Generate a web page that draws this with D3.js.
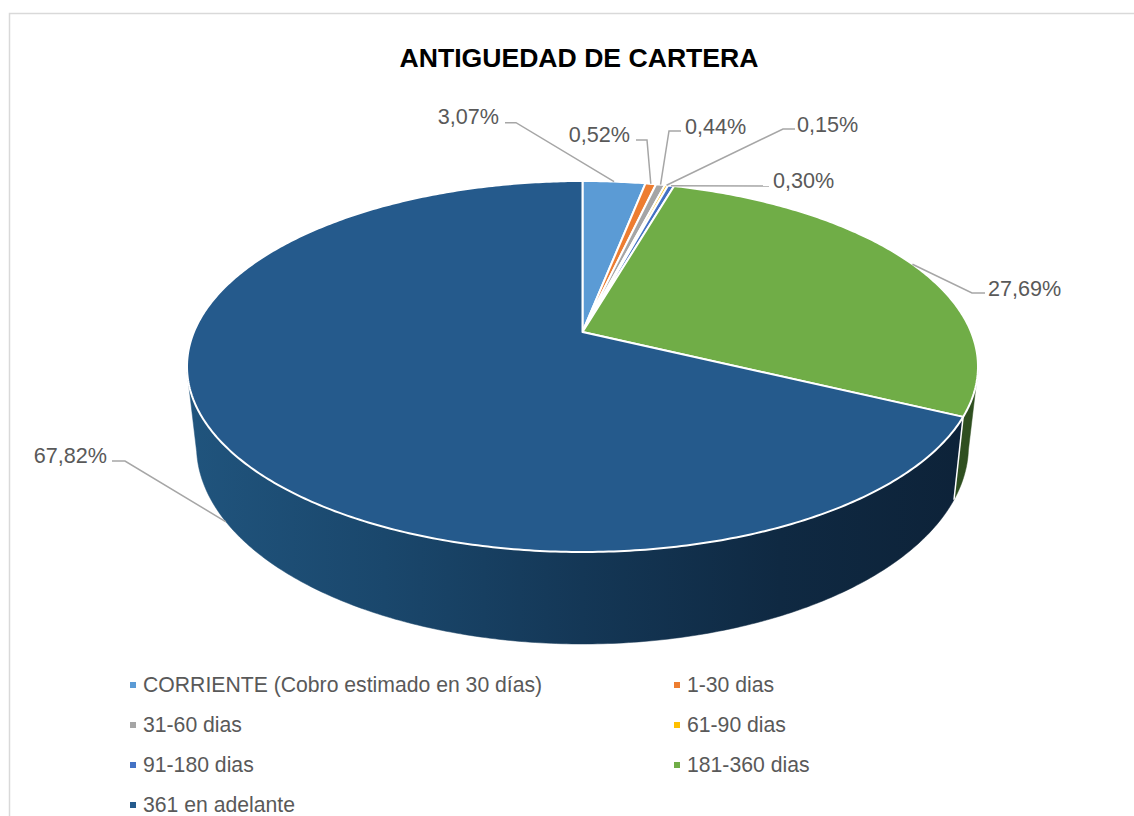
<!DOCTYPE html>
<html><head><meta charset="utf-8">
<script src="https://cdn.jsdelivr.net/npm/d3@7/dist/d3.min.js"></script>
<style>html,body{margin:0;padding:0;background:#fff;overflow:hidden}svg{display:block;font-family:"Liberation Sans",Arial,sans-serif}</style>
</head><body><svg id="c" width="1134" height="816"></svg>
<script>
const categories=["CORRIENTE (Cobro estimado en 30 días)","1-30 dias","31-60 dias","61-90 dias","91-180 dias","181-360 dias","361 en adelante"];
const values=[3.07,0.52,0.44,0.15,0.30,27.69,67.82];
const labels=["3,07%","0,52%","0,44%","0,15%","0,30%","27,69%","67,82%"];
const colors=["#5B9BD5","#ED7D31","#A5A5A5","#FFC000","#4472C4","#70AD47","#255A8C"];

const svg=d3.select("#c");
// frame
svg.append("path").attr("d","M9.5,816V13.5H1134").attr("fill","none").attr("stroke","#d9d9d9").attr("stroke-width",1.5);
svg.append("text").attr("x",579).attr("y",67).attr("text-anchor","middle").attr("font-size",26.6).attr("font-weight","bold").attr("fill","#000").text("ANTIGUEDAD DE CARTERA");

// perspective: unit disk projected so its centre lands above the ellipse centre
const tilt=0.186;
const project=a=>{const X=Math.sin(a),Y=Math.cos(a),d=1+tilt*Y;return [X*Math.sqrt(1-tilt*tilt)/d,(Y+tilt)/d];};
const topX=d3.scaleLinear().domain([-1,1]).range([187,978]);
const topY=d3.scaleLinear().domain([-1,1]).range([552,181]);
const botX=d3.scaleLinear().domain([-1,1]).range([196.5,968.5]);
const botY=d3.scaleLinear().domain([-1,1]).range([644,248]);
const onTop=a=>{const p=project(a);return [topX(p[0]),topY(p[1])];};
const onBot=a=>{const p=project(a);return [botX(p[0]),botY(p[1])];};
const apex=[topX(0),topY(tilt)];
const line=d3.line();
const arcs=d3.pie().value(d=>d).sort(null)(values);
const samples=(a0,a1)=>{const n=Math.max(2,Math.ceil((a1-a0)*90));return d3.range(n+1).map(i=>a0+(a1-a0)*i/n);};

// walls
const defs=svg.append("defs");
const grad=(id,stops)=>{const g=defs.append("linearGradient").attr("id",id).attr("gradientUnits","userSpaceOnUse").attr("x1",187).attr("x2",978).attr("y1",0).attr("y2",0);
 stops.forEach(s=>g.append("stop").attr("offset",s[0]).attr("stop-color",s[1]));};
grad("navy",[[0,"#20547d"],[0.25,"#1a476c"],[0.5,"#143756"],[0.75,"#0f2942"],[1,"#0d2238"]]);
grad("green",[[0,"#2a4a1e"],[1,"#2f4f20"]]);
const frontLimit=-0.02;
[[5,"url(#green)"],[6,"url(#navy)"]].forEach(([i,fill])=>{
 const pts=samples(arcs[i].startAngle,arcs[i].endAngle).filter(a=>project(a)[1]<=frontLimit);
 const poly=pts.map(onTop).concat(pts.slice().reverse().map(onBot));
 svg.append("path").attr("d",line(poly)+"Z").attr("fill",fill).attr("stroke",fill).attr("stroke-width",0.5);
});
// white seam on the wall between the two visible slices
svg.append("path").attr("d",line([onTop(arcs[6].startAngle),onBot(arcs[6].startAngle)])).attr("stroke","#fff").attr("stroke-width",1.5).attr("fill","none");

// top face
arcs.forEach((a,i)=>{
 const poly=[apex].concat(samples(a.startAngle,a.endAngle).map(onTop));
 svg.append("path").attr("d",line(poly)+"Z").attr("fill",colors[i]).attr("stroke","#fff").attr("stroke-width",2).attr("stroke-linejoin","round");
});

// leader lines and label placement
const leaderPaths=[
 {label:[499,"end",124],elbow:[[516,122.7],[505,122.7]]},
 {label:[630,"end",142],elbow:[[647,140],[636,140]]},
 {label:[685,"start",134],elbow:[[669,131],[681,131]]},
 {label:[797,"start",132],elbow:[[783,129],[795,129]]},
 {label:[773,"start",188],elbow:[[769,186]]},
 {label:[988,"start",296],elbow:[[972,293],[985,293]]},
 {label:[107,"end",463],elbow:[[125,461],[112,461]]}
];
arcs.forEach((a,i)=>{
 const mid=(a.startAngle+a.endAngle)/2;
 const anchor=i===6?onBot(mid):onTop(mid);
 const lp=leaderPaths[i];
 svg.append("path").attr("d",line([anchor].concat(lp.elbow))).attr("fill","none").attr("stroke","#a6a6a6").attr("stroke-width",1.5);
 svg.append("text").attr("x",lp.label[0]).attr("y",lp.label[2]).attr("text-anchor",lp.label[1]).attr("font-size",21.6).attr("fill","#595959").text(labels[i]);
});

// legend
const legX=d3.scaleBand().domain([0,1]).range([130,1218]);
const legY=d3.scalePoint().domain([0,1,2,3]).range([685,805]);
categories.forEach((c,i)=>{
 const col=i%2,row=Math.floor(i/2);
 svg.append("rect").attr("x",legX(col)).attr("y",legY(row)-3).attr("width",6).attr("height",6).attr("fill",colors[i]);
 svg.append("text").attr("x",legX(col)+13).attr("y",legY(row)+7).attr("font-size",21.2).attr("fill","#595959").text(c);
});
</script></body></html>
